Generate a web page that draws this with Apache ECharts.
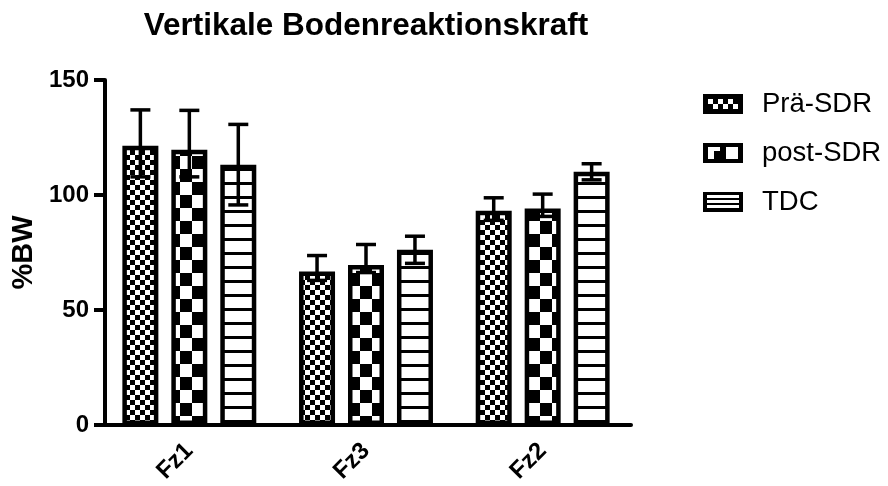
<!DOCTYPE html>
<html><head><meta charset="utf-8">
<script src="https://cdn.jsdelivr.net/npm/echarts@6/dist/echarts.min.js"></script>
<style>html,body{margin:0;padding:0;background:#fff}#c{width:888px;height:486px}</style>
</head><body><div id="c"></div>
<script>
// ---- data ----
const categories = ['Fz1', 'Fz3', 'Fz2'];
const seriesNames = ['Prä-SDR', 'post-SDR', 'TDC'];
const praMean  = [121.4, 66.8, 93.2];
const praLow   = [107.9, 62.9, 89.0];
const praHigh  = [137.0, 73.7, 98.8];
const postMean = [119.7, 69.6, 94.2];
const postLow  = [107.9, 66.3, 90.7];
const postHigh = [136.8, 78.5, 100.4];
const tdcMean  = [113.2, 76.2, 110.1];
const tdcLow   = [95.7, 70.3, 106.6];
const tdcHigh  = [130.7, 82.1, 113.6];
const yTicks = [0, 50, 100, 150];

// ---- styling helpers ----
const FONT = 'Liberation Sans, Arial, Helvetica, sans-serif';
const BAR_W = 36;
const BAR_GAP = '36%';

function makeCanvas(w, h, bg, fg, draw) {
  const c = document.createElement('canvas');
  c.width = w; c.height = h;
  const x = c.getContext('2d');
  x.fillStyle = bg; x.fillRect(0, 0, w, h);
  x.fillStyle = fg; draw(x);
  return c;
}
const praPat = makeCanvas(10, 10, '#fff', '#000', x => { x.fillRect(0, 0, 5, 5); x.fillRect(5, 5, 5, 5); });
const postPat = makeCanvas(24, 26, '#fff', '#000', x => { x.fillRect(0, 0, 12, 13); x.fillRect(12, 13, 12, 13); });
const tdcPat = makeCanvas(8, 14, '#fff', '#000', x => { x.fillRect(0, 0, 8, 3); });

const praIcon = makeCanvas(40, 20, '#000', '#fff', x => {
  for (let r = 0; r < 2; r++) for (let c = 0; c < 6; c++) {
    if ((r + c) % 2 === 0) x.fillRect(5 + c * 5, 5 + r * 5, 5, 5);
  }
}).toDataURL();
const postIcon = makeCanvas(40, 20, '#000', '#fff', x => {
  x.fillRect(5, 4, 12, 4); x.fillRect(23, 4, 12, 4);
  x.fillRect(5, 8, 6, 8); x.fillRect(23, 8, 12, 8);
}).toDataURL();
const tdcIcon = makeCanvas(40, 20, '#000', '#fff', x => {
  x.fillRect(4, 3, 32, 3); x.fillRect(4, 8, 32, 3); x.fillRect(4, 13, 32, 3);
}).toDataURL();

const pats = [praPat, postPat, tdcPat];
const icons = [praIcon, postIcon, tdcIcon];
const means = [praMean, postMean, tdcMean];
const lows = [praLow, postLow, tdcLow];
const highs = [praHigh, postHigh, tdcHigh];

const series = [];
seriesNames.forEach((n, i) => {
  series.push({
    type: 'bar', name: n, data: means[i], barWidth: BAR_W, barGap: BAR_GAP,
    itemStyle: { color: { image: pats[i], repeat: 'repeat' }, borderColor: '#000', borderWidth: 4.5 },
    z: 2
  });
});
seriesNames.forEach((n, idx) => {
  series.push({
    type: 'custom', name: n + ' SD', silent: true, z: 10,
    data: categories.map((c, k) => [k, lows[idx][k], highs[idx][k]]),
    encode: { x: 0, y: [1, 2] },
    renderItem(params, api) {
      const layout = api.barLayout({ barWidth: BAR_W, barGap: BAR_GAP, count: 3 });
      const ci = api.value(0);
      const lo = api.coord([ci, api.value(1)]);
      const hi = api.coord([ci, api.value(2)]);
      const x = lo[0] + layout[idx].offsetCenter;
      const half = 10;
      const st = { stroke: '#000', lineWidth: 3.5 };
      return { type: 'group', children: [
        { type: 'line', shape: { x1: x, y1: hi[1], x2: x, y2: lo[1] }, style: st },
        { type: 'line', shape: { x1: x - half, y1: hi[1], x2: x + half, y2: hi[1] }, style: st },
        { type: 'line', shape: { x1: x - half, y1: lo[1], x2: x + half, y2: lo[1] }, style: st }
      ] };
    }
  });
});

const chart = echarts.init(document.getElementById('c'), null, { renderer: 'canvas' });
chart.setOption({
  animation: false,
  backgroundColor: '#fff',
  textStyle: { fontFamily: FONT, color: '#000' },
  title: {
    text: 'Vertikale Bodenreaktionskraft', left: 366, top: 10, textAlign: 'center', padding: 0,
    textStyle: { fontFamily: FONT, fontSize: 31.5, fontWeight: 'bold', color: '#000' }
  },
  legend: {
    orient: 'vertical', left: 703, top: 90, padding: 0, itemWidth: 40, itemHeight: 20, itemGap: 21,
    selectedMode: false,
    data: seriesNames.map((n, i) => ({ name: n, icon: 'image://' + icons[i] })),
    textStyle: { fontFamily: FONT, fontSize: 27.5, color: '#000', padding: [0, 0, 0, 14] }
  },
  grid: { left: 101, width: 530, top: 80, height: 346, containLabel: false },
  xAxis: {
    type: 'category', data: categories,
    axisLine: { lineStyle: { color: '#000', width: 4 } },
    axisTick: { alignWithLabel: true, length: 9, lineStyle: { color: '#000', width: 4 } },
    axisLabel: { rotate: 45, fontSize: 24, fontWeight: 'bold', color: '#000', fontFamily: FONT, margin: 22 }
  },
  yAxis: {
    type: 'value', min: yTicks[0], max: yTicks[yTicks.length - 1], interval: yTicks[1] - yTicks[0],
    offset: -4,
    name: '%BW', nameLocation: 'middle', nameGap: 66,
    nameTextStyle: { fontSize: 29, fontWeight: 'bold', color: '#000', fontFamily: FONT },
    axisLine: { show: true, lineStyle: { color: '#000', width: 4 } },
    axisTick: { show: true, length: 11, lineStyle: { color: '#000', width: 4 } },
    axisLabel: { fontSize: 24, fontWeight: 'bold', color: '#000', fontFamily: FONT, margin: 16 },
    splitLine: { show: false }
  },
  series: series
});
</script>
</body></html>
